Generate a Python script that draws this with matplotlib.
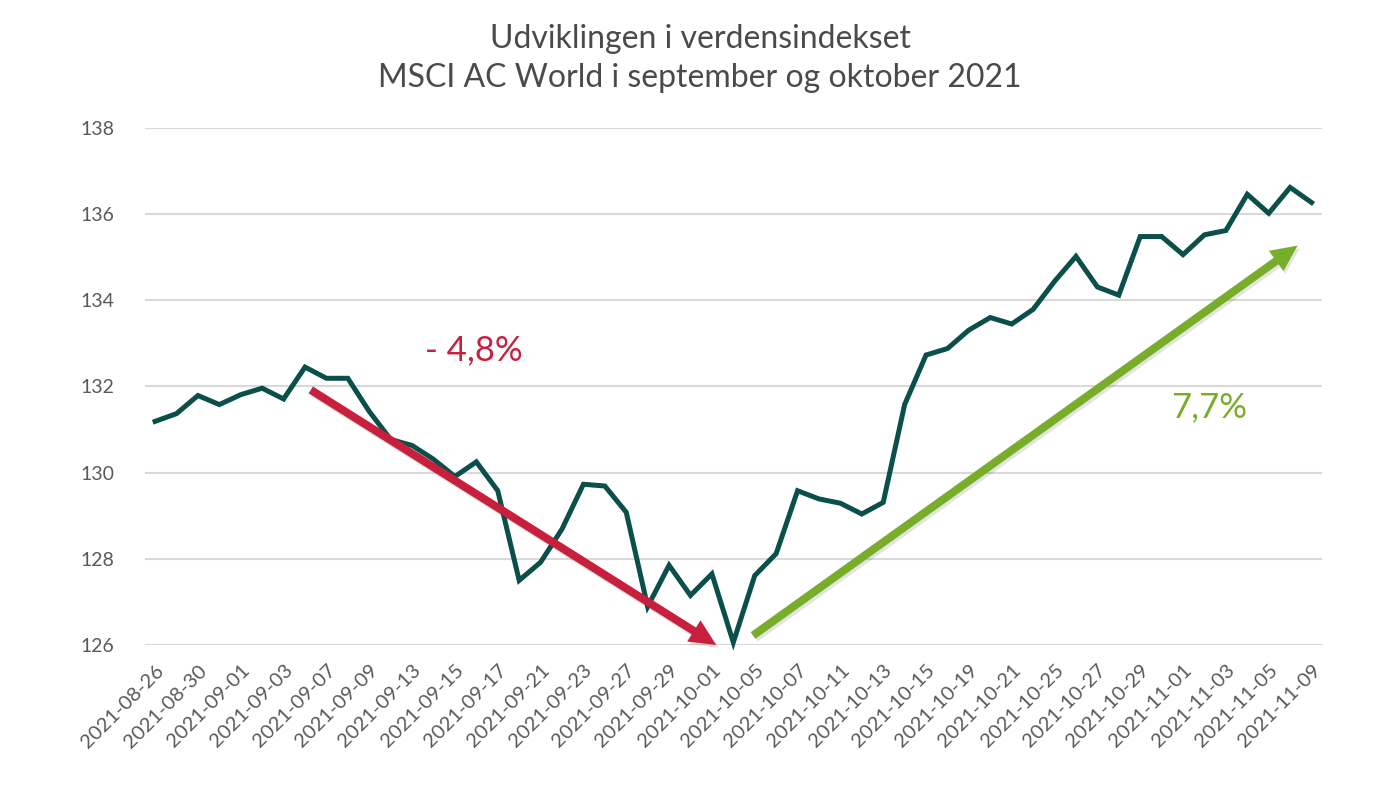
import matplotlib.pyplot as plt
import matplotlib.patheffects as pe
from matplotlib.patches import FancyArrowPatch, ArrowStyle

plt.rcParams['font.family'] = ['Lato', 'DejaVu Sans']

# trading days (incl. month-end 10-31 as in source)
dates = ['2021-08-26', '2021-08-27', '2021-08-30', '2021-08-31', '2021-09-01', '2021-09-02',
         '2021-09-03', '2021-09-06', '2021-09-07', '2021-09-08', '2021-09-09', '2021-09-10',
         '2021-09-13', '2021-09-14', '2021-09-15', '2021-09-16', '2021-09-17', '2021-09-20',
         '2021-09-21', '2021-09-22', '2021-09-23', '2021-09-24', '2021-09-27', '2021-09-28',
         '2021-09-29', '2021-09-30', '2021-10-01', '2021-10-04', '2021-10-05', '2021-10-06',
         '2021-10-07', '2021-10-08', '2021-10-11', '2021-10-12', '2021-10-13', '2021-10-14',
         '2021-10-15', '2021-10-18', '2021-10-19', '2021-10-20', '2021-10-21', '2021-10-22',
         '2021-10-25', '2021-10-26', '2021-10-27', '2021-10-28', '2021-10-29', '2021-10-31',
         '2021-11-01', '2021-11-02', '2021-11-03', '2021-11-04', '2021-11-05', '2021-11-08',
         '2021-11-09']

msci = [131.19, 131.37, 131.79, 131.58, 131.81, 131.96, 131.71, 132.45, 132.19, 132.19,
        131.42, 130.77, 130.63, 130.31, 129.91, 130.25, 129.58, 127.50, 127.92, 128.69,
        129.73, 129.69, 129.08, 126.89, 127.85, 127.15, 127.65, 126.06, 127.61, 128.12,
        129.58, 129.39, 129.29, 129.04, 129.31, 131.58, 132.73, 132.88, 133.31, 133.60,
        133.45, 133.79, 134.44, 135.02, 134.31, 134.12, 135.48, 135.48, 135.06, 135.52,
        135.62, 136.46, 136.02, 136.62, 136.27]

yticks = [126, 128, 130, 132, 134, 136, 138]

# trend arrows: (x start, y start, x end, y end) in index / index-level units
fall_arrow = (7.27, 131.92, 26.2, 126.0)
rise_arrow = (27.92, 126.22, 53.35, 135.27)
fall_label = '- 4,8%'
rise_label = '7,7%'

red = '#C8203C'
green = '#78AD2A'
teal = '#0B4F4A'

fig = plt.figure(figsize=(14, 7.88), dpi=100)
ax = fig.add_axes([0.1036, 0.1815, 0.8404, 0.6561])

x = list(range(len(dates)))
ax.plot(x, msci, color=teal, lw=3.6, solid_joinstyle='miter', clip_on=False, zorder=3)

ax.set_xlim(-0.47, 54.47)
ax.set_ylim(126, 138)
ax.set_yticks(yticks)
ax.set_yticklabels([str(v) for v in yticks])
ax.set_xticks(x[::2])
ax.set_xticklabels(dates[::2], rotation=45, ha='right', rotation_mode='anchor')
ax.tick_params(axis='both', length=0, labelsize=14.5, colors='#595959')
ax.tick_params(axis='y', labelsize=14, pad=22)
ax.tick_params(axis='x', pad=12)
ax.grid(axis='y', color='#D9D9D9', lw=1.5)
ax.set_axisbelow(True)
for s in ax.spines.values():
    s.set_visible(False)

for arr, col in [(fall_arrow, red), (rise_arrow, green)]:
    a = FancyArrowPatch((arr[0], arr[1]), (arr[2], arr[3]),
                        arrowstyle=ArrowStyle.Simple(head_length=0.95, head_width=0.9, tail_width=0.29),
                        mutation_scale=20, color=col, lw=0, shrinkA=0, shrinkB=0,
                        zorder=4, clip_on=False)
    a.set_path_effects([pe.SimplePatchShadow(offset=(1.5, -2), alpha=0.13), pe.Normal()])
    ax.add_patch(a)

ax.text(14.9, 132.85, fall_label, color=red, fontsize=25, ha='center', va='center')
ax.text(49.2, 131.51, rise_label, color=green, fontsize=25, ha='center', va='center')

fig.text(0.5, 0.926, 'Udviklingen i verdensindekset\nMSCI AC World i september og oktober 2021',
         ha='center', va='center', fontsize=23, color='#4A4A4A', linespacing=1.4)

fig.savefig('out.png', dpi=100)
